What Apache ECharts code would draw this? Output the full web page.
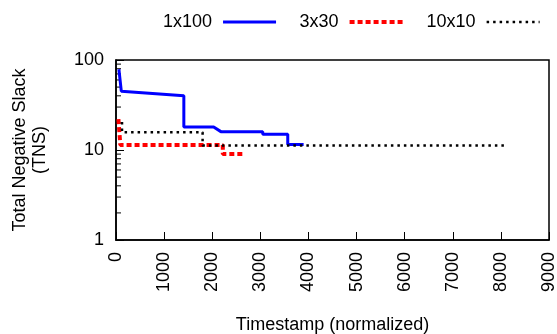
<!DOCTYPE html>
<html>
<head>
<meta charset="utf-8">
<script src="https://cdn.jsdelivr.net/npm/echarts@6/dist/echarts.min.js"></script>
<style>
  html, body { margin: 0; padding: 0; background: #fff; }
  #chart { width: 557px; height: 334px; }
</style>
</head>
<body>
<div id="chart"></div>
<script>
// TNS over normalized time, three partitioning configs
const seriesNames = ['1x100', '3x30', '10x10'];

const tns1x100 = [
  [60, 79], [110, 45], [1410, 40], [1410, 18], [2030, 18], [2180, 16],
  [3050, 16], [3050, 15], [3570, 15], [3570, 11.5], [3900, 11.5]
];
const tns3x30 = [
  [50, 22], [90, 21], [90, 11.4], [2220, 11.4], [2220, 9], [2660, 9]
];
const tns10x10 = [
  [125, 20.5], [125, 15.7], [1800, 15.7], [1800, 11.2], [8070, 11.2]
];

const xTicks = [0, 9000, 1000]; // min, max, step
const yMinorTicks = [2, 3, 4, 5, 6, 7, 8, 9, 20, 30, 40, 50, 60, 70, 80, 90];

const FONT = '"Liberation Sans", Arial, sans-serif';

const lineStyles = [
  { color: '#0000ff', width: 3 },
  { color: '#ff0000', width: 4, type: [5, 3] },
  { color: '#000', width: 2.5, type: [2.5, 4] }
];

const chart = echarts.init(document.getElementById('chart'), null, { renderer: 'canvas' });

const option = {
  backgroundColor: '#fff',
  animation: false,
  textStyle: { fontFamily: FONT },
  legend: {
    data: seriesNames.map((name, i) => ({ name, lineStyle: lineStyles[i] })),
    top: 8,
    left: 158,
    align: 'right',
    itemWidth: 53,
    itemHeight: 14,
    itemGap: 22,
    itemStyle: { opacity: 0 },
    textStyle: { fontSize: 18, color: '#000', fontFamily: FONT, padding: [0, 6, 0, 0] }
  },
  grid: {
    left: 116,
    right: 8,
    top: 60,
    bottom: 94,
    outerBoundsMode: 'none',
    containLabel: false,
    show: true,
    borderColor: '#000',
    borderWidth: 1.5,
    backgroundColor: 'transparent'
  },
  xAxis: {
    type: 'value',
    min: xTicks[0],
    max: xTicks[1],
    interval: xTicks[2],
    name: 'Timestamp (normalized)',
    nameLocation: 'middle',
    nameGap: 76,
    nameTextStyle: { fontSize: 18, color: '#000', fontFamily: FONT },
    axisLine: { lineStyle: { color: '#000', width: 1.5 } },
    axisTick: { inside: true, length: 8, lineStyle: { color: '#000', width: 1 } },
    axisLabel: {
      rotate: 90, margin: 12, fontSize: 18, color: '#000', fontFamily: FONT,
      formatter: (v) => String(v)
    },
    splitLine: { show: false }
  },
  yAxis: {
    type: 'log',
    logBase: 10,
    min: 1,
    max: 100,
    name: 'Total Negative Slack\n(TNS)',
    nameLocation: 'middle',
    nameRotate: 90,
    nameGap: 66,
    nameTextStyle: { fontSize: 18, lineHeight: 20, color: '#000', fontFamily: FONT, align: 'center' },
    axisLine: { show: true, lineStyle: { color: '#000', width: 1.5 } },
    axisTick: { inside: true, length: 8, lineStyle: { color: '#000', width: 1 } },
    axisLabel: { margin: 12, fontSize: 18, color: '#000', fontFamily: FONT, formatter: (v) => String(v) },
    splitLine: { show: false }
  },
  series: [
    {
      name: seriesNames[0],
      type: 'line',
      data: tns1x100,
      symbol: 'none',
      lineStyle: lineStyles[0],
      itemStyle: { color: lineStyles[0].color }
    },
    {
      name: seriesNames[1],
      type: 'line',
      data: tns3x30,
      symbol: 'none',
      lineStyle: lineStyles[1],
      itemStyle: { color: lineStyles[1].color }
    },
    {
      name: seriesNames[2],
      type: 'line',
      data: tns10x10,
      symbol: 'none',
      lineStyle: lineStyles[2],
      itemStyle: { color: lineStyles[2].color }
    },
    {
      // minor ticks on the log axis
      type: 'custom',
      silent: true,
      data: yMinorTicks.map((v) => [xTicks[0], v]),
      renderItem: (params, api) => {
        const p = api.coord([api.value(0), api.value(1)]);
        return {
          type: 'line',
          shape: { x1: p[0], y1: p[1], x2: p[0] + 5, y2: p[1] },
          style: { stroke: '#000', lineWidth: 1 }
        };
      }
    }
  ]
};

chart.setOption(option);
</script>
</body>
</html>
